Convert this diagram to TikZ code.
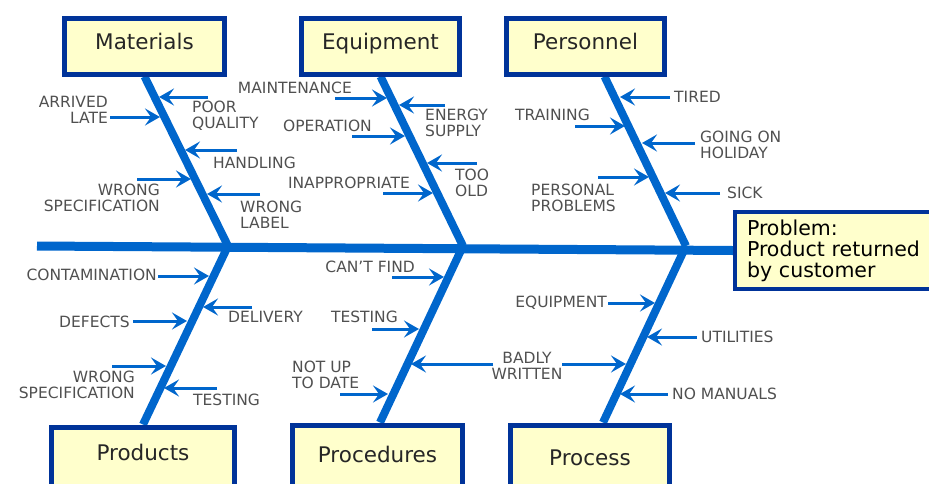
\documentclass[tikz,border=0pt]{standalone}
\usepackage{fontspec}
\setmainfont{DejaVu Sans}
\usetikzlibrary{arrows.meta}
\pgfdeclarelayer{background}
\pgfsetlayers{background,main}

\definecolor{boneblue}{HTML}{0066CC}
\definecolor{edgeblue}{HTML}{003399}
\definecolor{notefill}{HTML}{FFFFCC}
\definecolor{causegray}{HTML}{505050}

\tikzset{
  spine/.style={boneblue, line width=9pt},
  bone/.style={boneblue, line width=8pt},
  causearrow/.style={boneblue, line width=3pt,
    -{Stealth[length=15pt,width=17pt,inset=6pt]}},
  catbox/.style={draw=edgeblue, fill=notefill, line width=5pt, inner xsep=0pt,
    text=black!85, font=\fontsize{21.5}{24}\selectfont, text height=16pt},
  topbox/.style={catbox, anchor=north, inner ysep=15.5pt, text depth=9pt},
  botbox/.style={catbox, anchor=north, text depth=70pt},
  causelbl/.style={inner sep=0pt, text=causegray,
    font=\fontsize{15.5}{15.5}\selectfont},
}

% one cause arrow: name, tail point, tip point on the bone
\newcommand\fishcause[3]{%
  \coordinate (#1-t) at (#2);
  \coordinate (#1-h) at (#3);
  \draw[causearrow] (#1-t) -- (#1-h);}

\begin{document}
\begin{tikzpicture}[x=1pt,y=-1pt]
\useasboundingbox (0,0) rectangle (929,483);
\clip (0,0) rectangle (929,483);

% where the bones meet the spine
\coordinate (J1) at (228,246);
\coordinate (J2) at (463,246);
\coordinate (J3) at (686,246);

% effect box
\node[draw=edgeblue, fill=notefill, line width=4pt, anchor=north west,
      text width=200pt, inner xsep=12pt, minimum height=77pt, align=left,
      font=\fontsize{20.5}{21}\selectfont, text=black]
      (prob) at (733,210) {Problem:\\Product returned\\by customer};

% category boxes
\node[topbox, minimum width=160pt] (mat) at (144.5,15.5) {Materials};
\node[topbox, minimum width=158pt] (equ) at (380.5,15.5) {Equipment};
\node[topbox, minimum width=158pt] (per) at (585.5,15.5) {Personnel};
\node[botbox, minimum width=183pt, inner ysep=17.5pt] (prd) at (143,424.5) {Products};
\node[botbox, minimum width=170pt, inner ysep=21.5pt] (prc) at (377.5,422.5) {Procedures};
\node[botbox, minimum width=159pt, inner ysep=24.5pt] (pss) at (590,422.5) {Process};

% spine and bones
\begin{pgfonlayer}{background}
  \draw[spine] (37,246) -- (prob.west);
  \draw[bone] (mat.south) -- (J1);
  \draw[bone] (equ.south) -- (J2);
  \draw[bone] ([xshift=19pt]per.south) -- (J3);
  \draw[bone] (prd.north) -- (J1);
  \draw[bone] ([xshift=2.5pt]prc.north) -- (J2);
  \draw[bone] ([xshift=13pt]pss.north) -- (J3);
\end{pgfonlayer}

% Materials
\node[causelbl, anchor=north east, align=right] (mA) at (108,96) {ARRIVED\\LATE};
\node[causelbl, anchor=north west, align=left] (mB) at (192,101) {POOR\\QUALITY};
\node[causelbl, anchor=west] (mC) at (213,163) {HANDLING};
\node[causelbl, anchor=north east, align=right] (mD) at (160,184) {WRONG\\SPECIFICATION};
\node[causelbl, anchor=north west, align=left] (mE) at (240,201) {WRONG\\LABEL};
\fishcause{mA}{110,117}{160,117}
\fishcause{mB}{208,97}{159,97}
\fishcause{mC}{237,150}{185,150}
\fishcause{mD}{137,179}{191,179}
\fishcause{mE}{260,194}{207,194}

% Equipment
\node[causelbl, anchor=east] (eA) at (352,88) {MAINTENANCE};
\node[causelbl, anchor=north west, align=left] (eB) at (425,109) {ENERGY\\SUPPLY};
\node[causelbl, anchor=east] (eC) at (372,126) {OPERATION};
\node[causelbl, anchor=north west, align=left] (eD) at (455,169) {TOO\\OLD};
\node[causelbl, anchor=east] (eE) at (410,183) {INAPPROPRIATE};
\fishcause{eA}{335,98}{387,98}
\fishcause{eB}{445,105}{399,105}
\fishcause{eC}{352,136}{405,136}
\fishcause{eD}{477,163}{427,163}
\fishcause{eE}{383,193}{433,193}

% Personnel
\node[causelbl, anchor=west] (pA) at (674,97) {TIRED};
\node[causelbl, anchor=west] (pB) at (515,115) {TRAINING};
\node[causelbl, anchor=north west, align=left] (pC) at (700,131) {GOING ON\\HOLIDAY};
\node[causelbl, anchor=north west, align=left] (pD) at (531,184) {PERSONAL\\PROBLEMS};
\node[causelbl, anchor=west] (pE) at (727,193) {SICK};
\fishcause{pA}{670,97}{620,97}
\fishcause{pB}{575,126}{625,126}
\fishcause{pC}{695,143}{642,143}
\fishcause{pD}{598,177}{649,177}
\fishcause{pE}{720,193}{665,193}

% Products
\node[causelbl, anchor=east] (dA) at (157,275) {CONTAMINATION};
\node[causelbl, anchor=west] (dB) at (228,317) {DELIVERY};
\node[causelbl, anchor=east] (dC) at (130,322) {DEFECTS};
\node[causelbl, anchor=north east, align=right] (dD) at (135,371) {WRONG\\SPECIFICATION};
\node[causelbl, anchor=west] (dE) at (193,400) {TESTING};
\fishcause{dA}{158,276}{209,276}
\fishcause{dB}{252,307}{203,307}
\fishcause{dC}{133,321}{187,321}
\fishcause{dD}{112,366}{166,366}
\fishcause{dE}{217,388}{164,388}

% Procedures
\node[causelbl, anchor=east] (rA) at (415,267) {CAN'T FIND};
\node[causelbl, anchor=east] (rB) at (398,317) {TESTING};
\node[causelbl, anchor=north, align=center] (rC) at (527,352) {BADLY\\WRITTEN};
\node[causelbl, anchor=north west, align=left] (rD) at (292,361) {NOT UP\\TO DATE};
\fishcause{rA}{392,277}{444,277}
\fishcause{rB}{372,329}{419,329}
\fishcause{rCl}{493,364}{411,364}
\fishcause{rD}{340,394}{388,394}

% Process
\node[causelbl, anchor=east] (sA) at (607,303) {EQUIPMENT};
\node[causelbl, anchor=west] (sB) at (701,337) {UTILITIES};
\node[causelbl, anchor=west] (sC) at (672,394) {NO MANUALS};
\fishcause{sA}{608,303}{655,303}
\fishcause{sB}{697,337}{647,337}
\fishcause{rCr}{562,364}{626,364}
\fishcause{sC}{668,394}{620,394}
\end{tikzpicture}
\end{document}
